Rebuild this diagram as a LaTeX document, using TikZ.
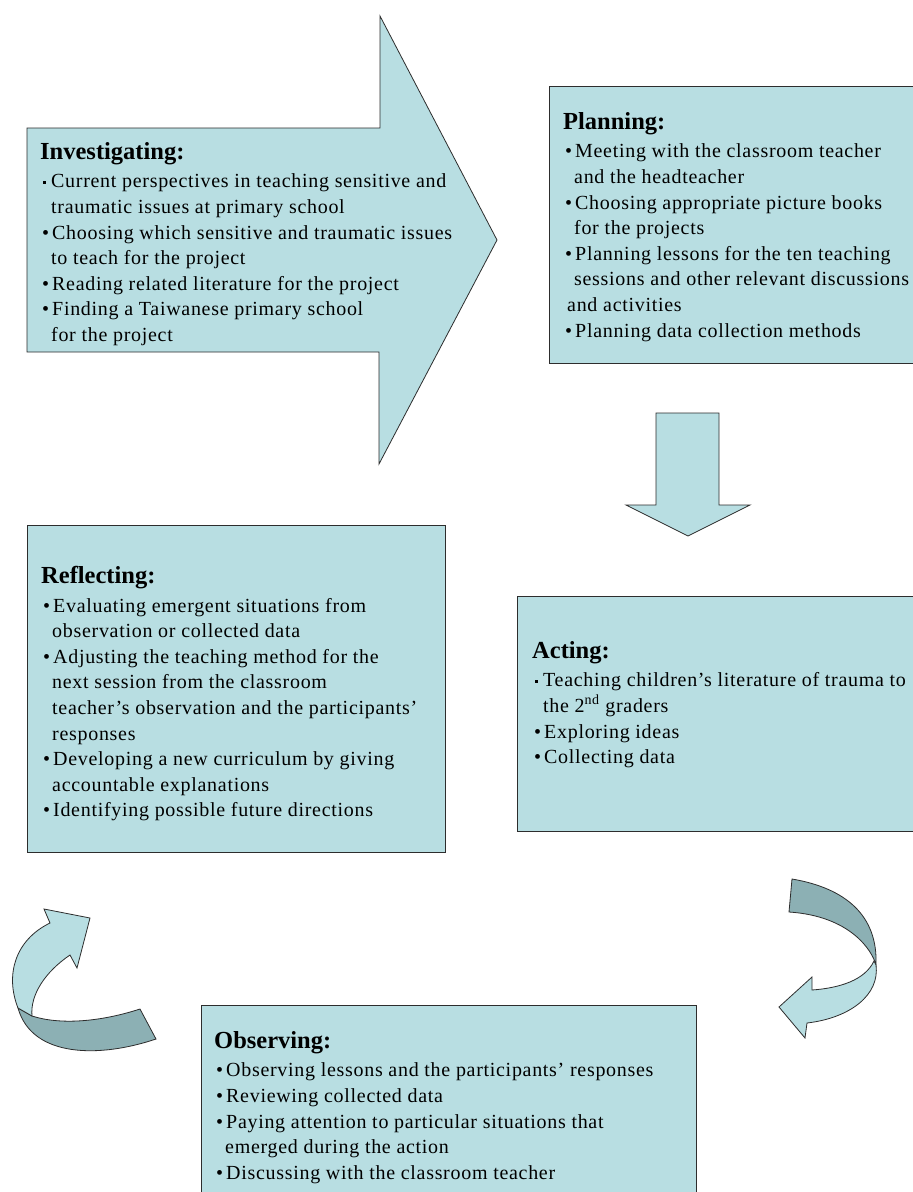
\documentclass[tikz,border=0pt]{standalone}
\usepackage{fontspec}
\setmainfont{Liberation Serif}
\newfontfamily\boxfont[LetterSpace=3.5]{Liberation Serif}
\newfontfamily\headfont{Liberation Serif}
\usetikzlibrary{positioning}

\definecolor{boxfill}{RGB}{184,222,226}
\definecolor{bandfill}{RGB}{140,176,180}
\definecolor{edge}{RGB}{45,45,45}

% bullet, square bullet and continuation indent
\newcommand{\bl}{\hspace*{2pt}\textbullet\hspace{3pt}}
\newcommand{\sq}{\hspace*{3pt}\rule[0.45ex]{3pt}{3pt}\hspace{5pt}}
\newcommand{\cl}{\hspace*{11pt}}
\newcommand{\ttl}[1]{{\headfont\fontsize{24.5}{25.6}\selectfont\bfseries #1}\\[3pt]}

\begin{document}
\begin{tikzpicture}[
    x=1pt, y=-1pt,
    panel/.style={draw=edge, fill=boxfill, line width=0.9pt, anchor=north west, inner sep=0pt},
    band/.style={draw=edge, fill=bandfill, line width=0.8pt},
    face/.style={draw=edge, fill=boxfill, line width=0.8pt},
    txt/.style={anchor=north west, align=left, inner sep=0pt,
                font=\boxfont\fontsize{20}{25.6}\selectfont}
]
\path[use as bounding box, fill=white] (0,0) rectangle (913,1192);

% block arrows
\draw[face] (27,128) -- (380,128) -- (380,16) -- (497,240) -- (379,464) -- (379,352) -- (27,352) -- cycle;
\draw[face] (656,413) -- (719,413) -- (719,505) -- (750,505) -- (688,536) -- (626,505) -- (656,505) -- cycle;

% boxes
\node[panel, minimum width=400pt, minimum height=277pt] (plan) at (549,86) {};
\node[panel, minimum width=418pt, minimum height=327pt] (refl) at (27,525) {};
\node[panel, minimum width=413pt, minimum height=235pt] (act) at (517,596) {};
\node[panel, minimum width=495pt, minimum height=205pt] (obs) at (201,1005) {};

% curved arrows
\draw[band] (792,879) .. controls (845,888) and (878,915) .. (876,965)
    .. controls (872,950) and (850,916) .. (789,912) -- cycle;
\draw[face] (874,961) .. controls (865,980) and (840,988) .. (812,990) -- (812,977) -- (779,1007)
    -- (805,1038) -- (807,1023) .. controls (850,1018) and (880,995) .. (876,965) -- cycle;
\draw[band] (32,1016) .. controls (60,1025) and (100,1022) .. (140,1009) -- (156,1039)
    .. controls (100,1058) and (32,1058) .. (18,1008) -- cycle;
\draw[face] (18,1008) .. controls (5,975) and (15,940) .. (50,923) -- (44,909) -- (90,918)
    -- (77,968) -- (70,955) .. controls (45,972) and (30,995) .. (32,1016) -- cycle;

% texts
\node[txt] (investT) at (40,142) {\ttl{Investigating:}
\sq Current perspectives in teaching sensitive and\\
\cl traumatic issues at primary school\\
\bl Choosing which sensitive and traumatic issues\\
\cl to teach for the project\\
\bl Reading related literature for the project\\
\bl Finding a Taiwanese primary school\\
\cl for the project};

\node[txt] (planT) at (563,112) {\ttl{Planning:}
\bl Meeting with the classroom teacher\\
\cl and the headteacher\\
\bl Choosing appropriate picture books\\
\cl for the projects\\
\bl Planning lessons for the ten teaching\\
\cl sessions and other relevant discussions\\
\hspace*{4pt}and activities\\
\bl Planning data collection methods};

\node[txt] (reflT) at (41,566) {\ttl{Reflecting:}
\bl Evaluating emergent situations from\\
\cl observation or collected data\\
\bl Adjusting the teaching method for the\\
\cl next session from the classroom\\
\cl teacher’s observation and the participants’\\
\cl responses\\
\bl Developing a new curriculum by giving\\
\cl accountable explanations\\
\bl Identifying possible future directions};

\node[txt] (actT) at (532,641) {\ttl{Acting:}
\sq Teaching children’s literature of trauma to\\
\cl the 2\textsuperscript{nd} graders\\
\bl Exploring ideas\\
\bl Collecting data};

\node[txt] (obsT) at (214,1031) {\ttl{Observing:}
\bl Observing lessons and the participants’ responses\\
\bl Reviewing collected data\\
\bl Paying attention to particular situations that\\
\cl emerged during the action\\
\bl Discussing with the classroom teacher};
\end{tikzpicture}
\end{document}
